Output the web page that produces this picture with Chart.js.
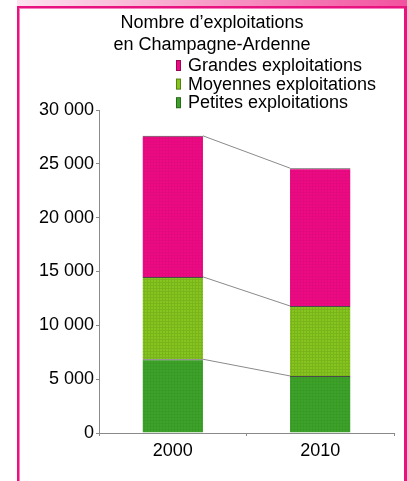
<!DOCTYPE html>
<html>
<head>
<meta charset="utf-8">
<script src="https://cdn.jsdelivr.net/npm/chart.js@4"></script>
<style>
    body { margin: 0; background: #fff; width: 407px; height: 481px; overflow: hidden; position: relative; }
    #band { position: absolute; left: 17px; top: 0; width: 390px; height: 6px;
            background: linear-gradient(to right, #fde4f0, #f2529f); }
    #frame { position: absolute; left: 17px; top: 6px; width: 385px; height: 520px;
             border: 2px solid #e8137f; border-right-width: 3px; border-bottom: none;
             box-shadow: inset 1px 1px 0 #f77fbd; }
    #myChart { position: absolute; left: 0; top: 0; }
</style>
</head>
<body>
<div id="band"></div>
<div id="frame"></div>
<canvas id="myChart" width="407" height="481"></canvas>
<script>
// données
const annees = ['2000', '2010'];
const petites = [6850, 5300];
const moyennes = [7650, 6500];
const grandes = [13100, 12800];
const titre = ["Nombre d\u2019exploitations", "en Champagne-Ardenne"];
const yTicks = [0, 5000, 10000, 15000, 20000, 25000, 30000];

const police = "'Liberation Sans', Arial, sans-serif";

// texture fine des barres
function motif(fond, trait) {
    const c = document.createElement('canvas');
    c.width = 3;
    c.height = 3;
    const g = c.getContext('2d');
    g.fillStyle = fond;
    g.fillRect(0, 0, 3, 3);
    g.fillStyle = trait;
    g.fillRect(0, 0, 1, 3);
    g.fillRect(0, 0, 3, 1);
    return g.createPattern(c, 'repeat');
}

// format "30 000"
function milliers(v) {
    return String(v).replace(/\B(?=(\d{3})+(?!\d))/g, ' ');
}

// titre + légende verticale
const legendeTitre = {
    id: 'legendeTitre',
    afterDraw(chart) {
        const ctx = chart.ctx;
        ctx.save();
        ctx.fillStyle = '#000';
        ctx.font = '18px ' + police;
        ctx.textAlign = 'center';
        ctx.textBaseline = 'alphabetic';
        titre.forEach((t, i) => ctx.fillText(t, 212, 28 + i * 22));

        ctx.textAlign = 'left';
        const ds = chart.data.datasets.slice().reverse();
        ds.forEach((d, i) => {
            const base = 71 + i * 18.6;
            ctx.fillStyle = d.legendColor;
            ctx.fillRect(176, base - 11, 5, 11);
            ctx.strokeStyle = 'rgba(0,0,0,0.35)';
            ctx.lineWidth = 1;
            ctx.strokeRect(176.5, base - 10.5, 4, 10);
            ctx.fillStyle = '#000';
            ctx.fillText(d.label, 188, base);
        });
        ctx.restore();
    }
};

// lignes grises reliant les sommets des segments
const liaisons = {
    id: 'liaisons',
    afterDatasetsDraw(chart) {
        const ctx = chart.ctx;
        ctx.save();
        ctx.strokeStyle = '#8a8a8a';
        ctx.lineWidth = 1;
        chart.data.datasets.forEach((d, i) => {
            const bars = chart.getDatasetMeta(i).data;
            const a = bars[0], b = bars[1];
            ctx.beginPath();
            ctx.moveTo(a.x + a.width / 2, a.y);
            ctx.lineTo(b.x - b.width / 2, b.y);
            ctx.stroke();
        });
        ctx.restore();
    }
};

const ctx = document.getElementById('myChart').getContext('2d');

const jeux = [
    { label: 'Petites exploitations', data: petites, fond: '#3ea22a', trait: '#35942570' },
    { label: 'Moyennes exploitations', data: moyennes, fond: '#86c520', trait: '#79b41a' },
    { label: 'Grandes exploitations', data: grandes, fond: '#ee0a85', trait: '#e20a7c' }
].map(j => ({
    label: j.label,
    data: j.data,
    legendColor: j.fond,
    backgroundColor: motif(j.fond, j.trait),
    borderColor: '#4a4a4a',
    borderWidth: { top: 1, left: 0, right: 0, bottom: 0 },
    borderSkipped: false,
    barPercentage: 0.41,
    categoryPercentage: 1
}));

new Chart(ctx, {
    type: 'bar',
    data: { labels: annees, datasets: jeux },
    options: {
        responsive: false,
        animation: false,
        devicePixelRatio: 1,
        layout: { padding: { top: 110, right: 13, left: 0, bottom: 0 } },
        plugins: {
            legend: { display: false },
            title: { display: false },
            tooltip: { enabled: false }
        },
        scales: {
            x: {
                stacked: true,
                grid: { offset: true, drawOnChartArea: false, drawTicks: true, tickLength: 3, color: '#8a8a8a' },
                border: { color: '#8a8a8a' },
                ticks: { color: '#000', font: { size: 18, family: police }, padding: 4 },
                afterFit: s => { s.height = 48; }
            },
            y: {
                stacked: true,
                min: 0,
                max: 30000,
                afterBuildTicks: s => { s.ticks = yTicks.map(v => ({ value: v })); },
                grid: { drawOnChartArea: false, drawTicks: true, tickLength: 3, color: '#8a8a8a' },
                border: { color: '#8a8a8a' },
                ticks: { color: '#000', font: { size: 18, family: police }, padding: 2,
                         callback: v => milliers(v) },
                afterFit: s => { s.width = 99; }
            }
        }
    },
    plugins: [liaisons, legendeTitre]
});
</script>
</body>
</html>
